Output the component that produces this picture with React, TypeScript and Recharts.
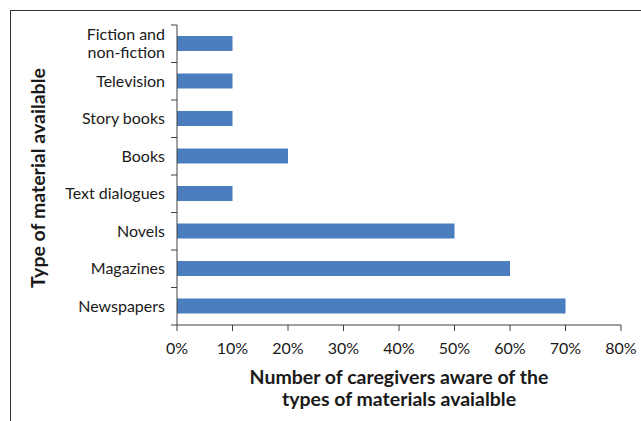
import React from 'react'
import { BarChart, Bar, XAxis, YAxis } from 'recharts'

const categories = [
  'Fiction and non-fiction',
  'Television',
  'Story books',
  'Books',
  'Text dialogues',
  'Novels',
  'Magazines',
  'Newspapers',
]
const awareness = [10, 10, 10, 20, 10, 50, 60, 70]
const xTicks = [0, 10, 20, 30, 40, 50, 60, 70, 80]

const data = categories.map((name, i) => ({ name, value: awareness[i] }))

const FONT = 'Lato, "Open Sans", sans-serif'
const AXIS = '#404040'
const BAR = '#4A7EBF'

function wrap(label: string): string[] {
  if (label.length <= 16) return [label]
  const cut = label.lastIndexOf(' ', 12)
  return [label.slice(0, cut), label.slice(cut + 1)]
}

function CategoryTick(props: any) {
  const { x, y, payload, index } = props
  const half = payload?.offset ?? 18.75
  const axisX = x + 12
  const lines = wrap(String(payload.value))
  const lh = 18
  const start = -((lines.length - 1) * lh) / 2
  return (
    <g>
      <line x1={axisX - 6} x2={axisX} y1={y - half} y2={y - half} stroke={AXIS} strokeWidth={1} />
      {index === categories.length - 1 && (
        <line x1={axisX - 6} x2={axisX} y1={y + half} y2={y + half} stroke={AXIS} strokeWidth={1} />
      )}
      <text x={x} y={y} textAnchor="end" fontSize={16} fontFamily={FONT} fill="#1a1a1a">
        {lines.map((l, i) => (
          <tspan key={i} x={x} dy={i === 0 ? start + 5.5 : lh}>{l}</tspan>
        ))}
      </text>
    </g>
  )
}

export default function App() {
  return (
    <div style={{ position: 'absolute', left: 0, top: 0, width: 641, height: 421, background: '#fff' }}>
      <div
        style={{
          position: 'absolute',
          left: 10,
          top: 10,
          width: 631,
          height: 411,
          borderTop: '1.5px solid #333',
          borderLeft: '1.5px solid #333',
          boxSizing: 'border-box',
        }}
      />
      <BarChart
        width={641}
        height={421}
        data={data}
        layout="vertical"
        margin={{ top: 25, right: 20, bottom: 0, left: 0 }}
        barSize={15}
      >
        <XAxis
          type="number"
          domain={[0, 80]}
          ticks={xTicks}
          tickFormatter={(v) => `${v}%`}
          stroke={AXIS}
          tickSize={6}
          tickMargin={12}
          height={96}
          interval={0}
          tick={{ fill: '#1a1a1a', fontSize: 16, fontFamily: FONT }}
        />
        <YAxis
          type="category"
          dataKey="name"
          width={177}
          stroke={AXIS}
          tickLine={false}
          tickMargin={0}
          tickSize={12}
          interval={0}
          tick={<CategoryTick />}
        />
        <Bar dataKey="value" fill={BAR} isAnimationActive={false} />
      </BarChart>
      <div
        style={{
          position: 'absolute',
          left: 177,
          width: 444,
          top: 366,
          textAlign: 'center',
          fontFamily: FONT,
          fontWeight: 700,
          fontSize: 19.5,
          lineHeight: '22px',
          color: '#1a1a1a',
        }}
      >
        Number of caregivers aware of the
        <br />
        types of materials avaialble
      </div>
      <div
        style={{
          position: 'absolute',
          left: 37,
          top: 178,
          transform: 'translate(-50%, -50%) rotate(-90deg)',
          whiteSpace: 'nowrap',
          fontFamily: FONT,
          fontWeight: 700,
          fontSize: 19.5,
          color: '#1a1a1a',
        }}
      >
        Type of material available
      </div>
    </div>
  )
}
